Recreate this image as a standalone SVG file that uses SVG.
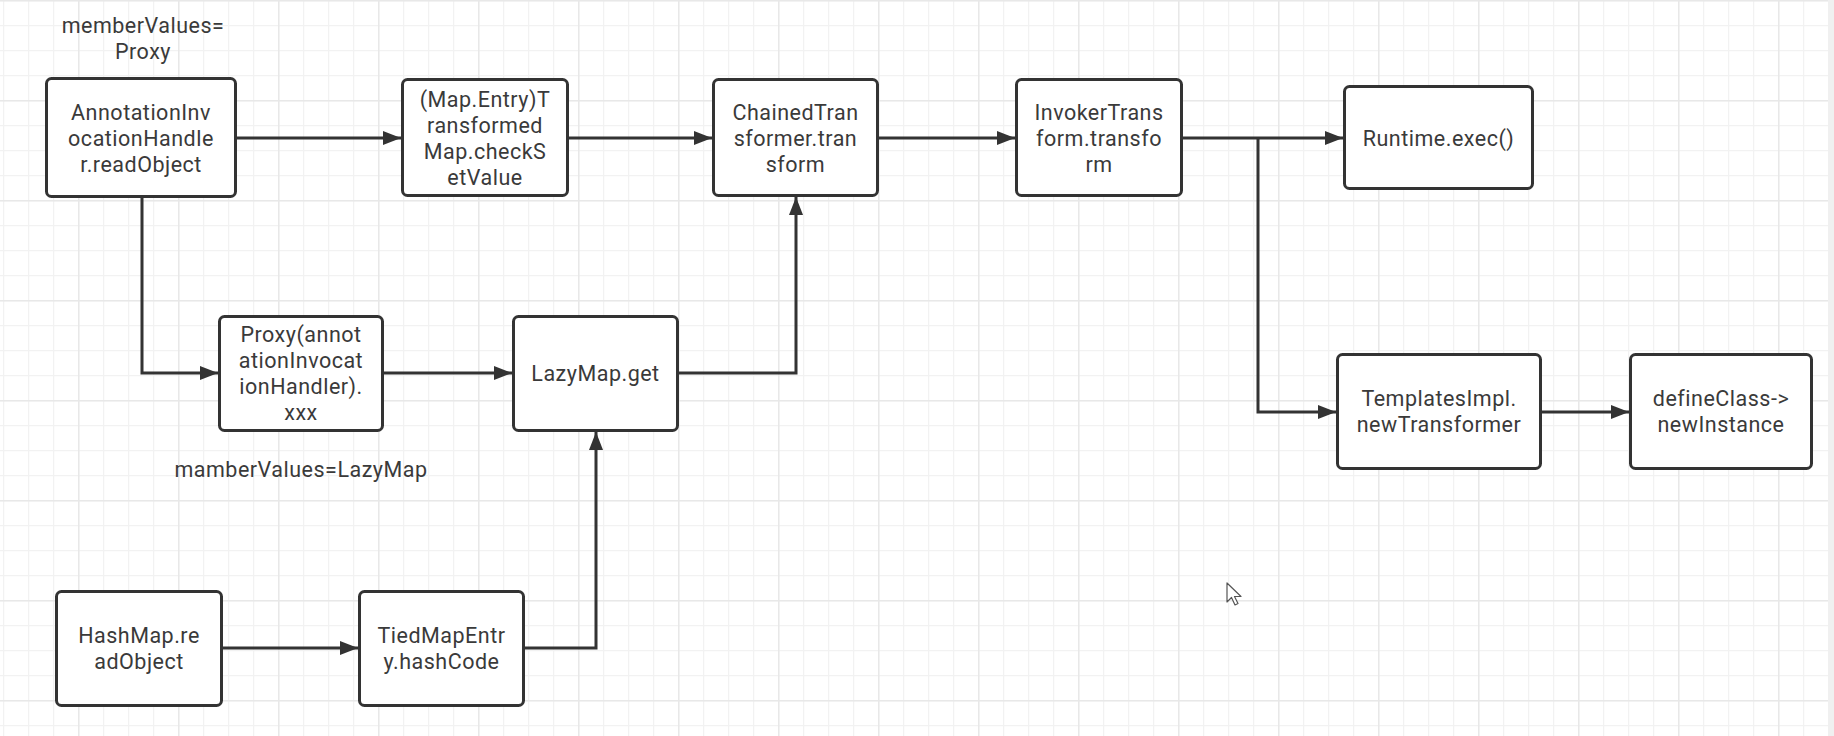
<svg xmlns="http://www.w3.org/2000/svg" width="1834" height="736" viewBox="0 0 1834 736">
<defs>
<pattern id="minor" patternUnits="userSpaceOnUse" x="3" y="0" width="25" height="25">
<path d="M0.5 0V25M0 0.5H25" stroke="#f2f2f2" stroke-width="1.5" fill="none"/>
</pattern>
<pattern id="major" patternUnits="userSpaceOnUse" x="78" y="0" width="100" height="100">
<path d="M0.5 0V100M0 0.5H100" stroke="#e8e8e8" stroke-width="2" fill="none"/>
</pattern>
<marker id="arr" markerUnits="userSpaceOnUse" markerWidth="20" markerHeight="16" refX="18" refY="7" orient="auto">
<path d="M0 0L18 7L0 14Z" fill="#333"/>
</marker>
<style>
.box{fill:#fff;stroke:#333;stroke-width:3}
.t{font-family:Roboto,"Noto Sans",sans-serif;font-size:21.5px;letter-spacing:0.5px;fill:#3a3a3a;text-anchor:middle}
.c{fill:none;stroke:#333;stroke-width:3}
</style>
</defs>
<rect width="1834" height="736" fill="#fff"/>
<rect width="1834" height="736" fill="url(#minor)"/>
<rect width="1834" height="736" fill="url(#major)"/>
<rect x="1828" y="0" width="6" height="736" fill="#f0f0f0"/>

<g id="connectors">
<path class="c" d="M237 138H401" marker-end="url(#arr)"/>
<path class="c" d="M569 138H712" marker-end="url(#arr)"/>
<path class="c" d="M879 138H1015" marker-end="url(#arr)"/>
<path class="c" d="M1183 138H1343" marker-end="url(#arr)"/>
<path class="c" d="M1258 138V412H1336" marker-end="url(#arr)"/>
<path class="c" d="M1542 412H1629" marker-end="url(#arr)"/>
<path class="c" d="M142 198V373H218" marker-end="url(#arr)"/>
<path class="c" d="M384 373H512" marker-end="url(#arr)"/>
<path class="c" d="M679 373H796V197" marker-end="url(#arr)"/>
<path class="c" d="M223 648H358" marker-end="url(#arr)"/>
<path class="c" d="M525 648H596V432" marker-end="url(#arr)"/>
</g>

<g id="label-proxy">
<text class="t" x="143" y="33">memberValues=</text>
<text class="t" x="143" y="59">Proxy</text>
</g>

<g id="node-annotation">
<rect class="box" x="46.5" y="78.5" width="189" height="118" rx="5"/>
<text class="t" x="141" y="120">AnnotationInv</text>
<text class="t" x="141" y="146">ocationHandle</text>
<text class="t" x="141" y="172">r.readObject</text>
</g>

<g id="node-transformedmap">
<rect class="box" x="402.5" y="79.5" width="165" height="116" rx="5"/>
<text class="t" x="485" y="107">(Map.Entry)T</text>
<text class="t" x="485" y="133">ransformed</text>
<text class="t" x="485" y="159">Map.checkS</text>
<text class="t" x="485" y="185">etValue</text>
</g>

<g id="node-chained">
<rect class="box" x="713.5" y="79.5" width="164" height="116" rx="5"/>
<text class="t" x="795.5" y="120">ChainedTran</text>
<text class="t" x="795.5" y="146">sformer.tran</text>
<text class="t" x="795.5" y="172">sform</text>
</g>

<g id="node-invoker">
<rect class="box" x="1016.5" y="79.5" width="165" height="116" rx="5"/>
<text class="t" x="1099" y="120">InvokerTrans</text>
<text class="t" x="1099" y="146">form.transfo</text>
<text class="t" x="1099" y="172">rm</text>
</g>

<g id="node-runtime">
<rect class="box" x="1344.5" y="86.5" width="188" height="102" rx="5"/>
<text class="t" x="1438.5" y="146">Runtime.exec()</text>
</g>

<g id="node-proxy">
<rect class="box" x="219.5" y="316.5" width="163" height="114" rx="5"/>
<text class="t" x="301" y="342">Proxy(annot</text>
<text class="t" x="301" y="368">ationInvocat</text>
<text class="t" x="301" y="394">ionHandler).</text>
<text class="t" x="301" y="420">xxx</text>
</g>

<g id="label-lazymap">
<text class="t" x="301" y="477">mamberValues=LazyMap</text>
</g>

<g id="node-lazymap">
<rect class="box" x="513.5" y="316.5" width="164" height="114" rx="5"/>
<text class="t" x="595.5" y="381">LazyMap.get</text>
</g>

<g id="node-templates">
<rect class="box" x="1337.5" y="354.5" width="203" height="114" rx="5"/>
<text class="t" x="1439" y="406">TemplatesImpl.</text>
<text class="t" x="1439" y="432">newTransformer</text>
</g>

<g id="node-defineclass">
<rect class="box" x="1630.5" y="354.5" width="181" height="114" rx="5"/>
<text class="t" x="1721" y="406">defineClass-&gt;</text>
<text class="t" x="1721" y="432">newInstance</text>
</g>

<g id="node-hashmap">
<rect class="box" x="56.5" y="591.5" width="165" height="114" rx="5"/>
<text class="t" x="139" y="643">HashMap.re</text>
<text class="t" x="139" y="669">adObject</text>
</g>

<g id="node-tiedmapentry">
<rect class="box" x="359.5" y="591.5" width="164" height="114" rx="5"/>
<text class="t" x="441.5" y="643">TiedMapEntr</text>
<text class="t" x="441.5" y="669">y.hashCode</text>
</g>

<path d="M1227 583V602L1231.5 597.5L1235 605L1238 603.5L1234.5 596.5L1241 596.5Z" fill="#fff" stroke="#555" stroke-width="1.2" stroke-linejoin="round"/>
</svg>
